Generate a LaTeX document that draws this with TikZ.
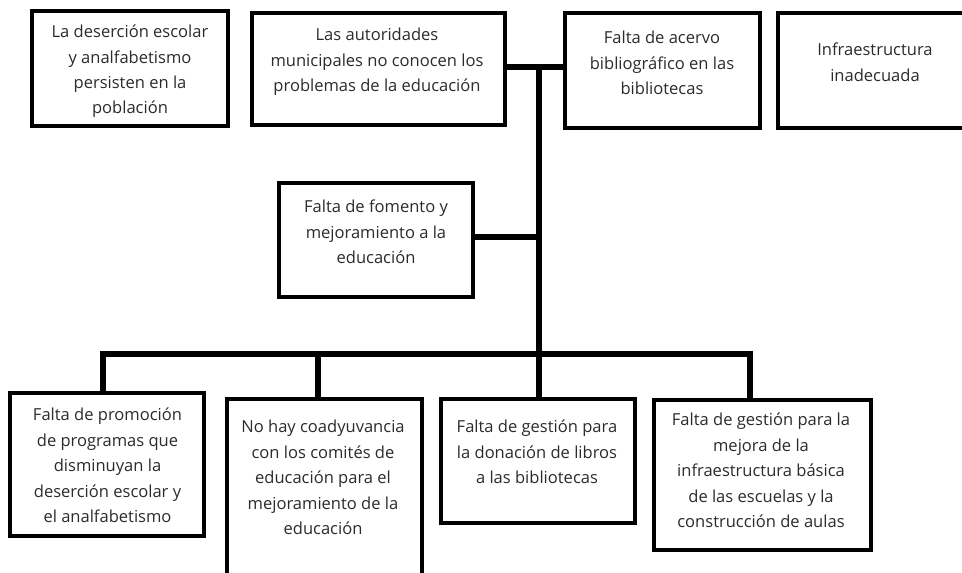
\documentclass[tikz,border=0pt]{standalone}
\usepackage{fontspec}
\setmainfont{Open Sans}
\usetikzlibrary{fit}
\definecolor{txt}{HTML}{2B2B2B}
\begin{document}
\begin{tikzpicture}[x=0.75pt,y=-0.75pt,
  boxnode/.style={draw=black, line width=2.4pt, inner sep=0pt, rectangle},
  txtnode/.style={anchor=north, inner sep=0pt, align=center, text=txt,
    font=\fontsize{12.4pt}{19.1pt}\selectfont},
  conn/.style={draw=black, line width=4.2pt, line join=miter, line cap=butt}]
\useasboundingbox (0,0) rectangle (962,572);
\clip (0,0) rectangle (962,572);
% boxes
\node (b1) [boxnode, fit={(32,11) (228,126)}] {};
\node (b2) [boxnode, fit={(252,13) (505,125)}] {};
\node (b3) [boxnode, fit={(565,13) (760,128)}] {};
\node (b4) [boxnode, fit={(778,13) (978,128)}] {};
\node (mid) [boxnode, fit={(279,183) (473,297)}] {};
\node (b5) [boxnode, fit={(10,393) (204,536)}] {};
\node (b6) [boxnode, fit={(227,399) (422,590)}] {};
\node (b7) [boxnode, fit={(441,399) (635,523)}] {};
\node (b8) [boxnode, fit={(654,400) (871,550)}] {};
% texts
\node (t1) [txtnode] at (130,19.5) {\strut La deserción escolar\\y analfabetismo\\persisten en la\\población};
\node (t2) [txtnode] at (377,22.5) {\strut Las autoridades\\municipales no conocen los\\problemas de la educación};
\node (t3) [txtnode] at (662,25.5) {\strut Falta de acervo\\bibliográfico en las\\bibliotecas};
\node (t4) [txtnode] at (875,37.5) {\strut Infraestructura\\inadecuada};
\node (tm) [txtnode] at (376,194.5) {\strut Falta de fomento y\\mejoramiento a la\\educación};
\node (t5) [txtnode] at (107.5,402.5) {\strut Falta de promoción\\de programas que\\disminuyan la\\deserción escolar y\\el analfabetismo};
\node (t6) [txtnode] at (323,414.5) {\strut No hay coadyuvancia\\con los comités de\\educación para el\\mejoramiento de la\\educación};
\node (t7) [txtnode] at (537,414.5) {\strut Falta de gestión para\\la donación de libros\\a las bibliotecas};
\node (t8) [txtnode] at (761,407.5) {\strut Falta de gestión para la\\mejora de la\\infraestructura básica\\de las escuelas y la\\construcción de aulas};
% connectors
\coordinate (j1) at (539,67);
\coordinate (jm) at (539,237);
\coordinate (bl) at (103,354);
\coordinate (c6) at (318,354);
\coordinate (br) at (750,354);
\draw[conn] (b2.east |- j1) -- (b3.west |- j1);
\draw[conn] (j1) -- (j1 |- b7.north);
\draw[conn] (mid.east |- jm) -- (jm);
\draw[conn] (bl |- b5.north) -- (bl) -- (br) -- (br |- b8.north);
\draw[conn] (c6) -- (c6 |- b6.north);
\end{tikzpicture}
\end{document}
